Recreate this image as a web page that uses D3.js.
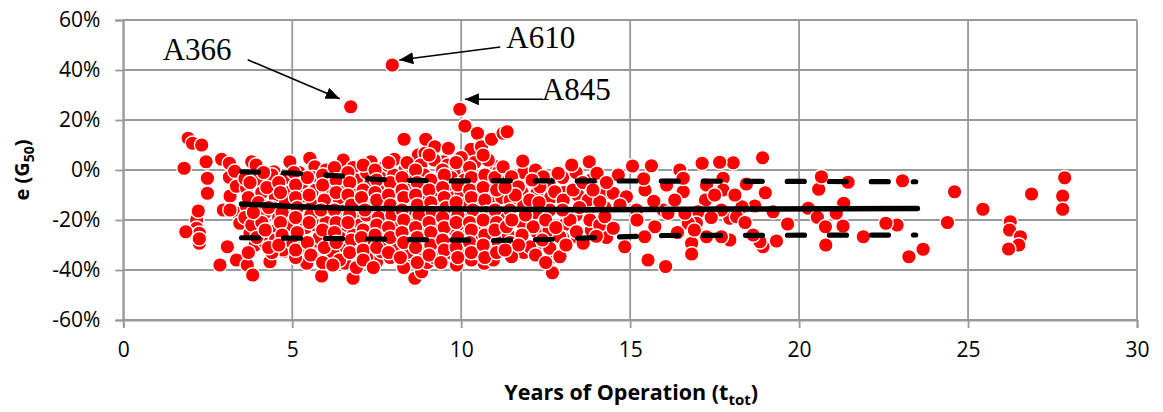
<!DOCTYPE html>
<html><head><meta charset="utf-8">
<script src="https://cdn.jsdelivr.net/npm/d3@7"></script>
<style>
html,body{margin:0;padding:0;background:#fff;}
svg{display:block;}
</style></head>
<body>
<svg id="chart" width="1163" height="412"></svg>
<script>
// ---------- DATA ----------
const xTicks = [0, 5, 10, 15, 20, 25, 30];
const yTicks = [-60, -40, -20, 0, 20, 40, 60];
const yTickLabels = ["-60%", "-40%", "-20%", "0%", "20%", "40%", "60%"];

// [years of operation, error %]
const leftCluster = [
 [1.92,12.7],[2.05,10.7],[2.32,10],[1.8,0.7],[2.45,3.3],[2.91,4.3],[3.14,2.7],[2.49,-3.3],[2.49,-9.3],
 [3.14,-2.9],[3.16,-10.4],[2.25,-16],[2.17,-20],[2.17,-23.3],[1.88,-25.1],[2.25,-25.3],[2.25,-29.3],
 [2.96,-16],[3.4,-17.3],[3.45,-21.3],[3.08,-30.7],[2.86,-38],[3.35,-36],[3.16,-16],[2.22,-16.4],
 [1.85,-24.7],[2.25,-27.5],[3.3,-0.5],[3.35,-6.5]
];
const coreCluster = [
 [3.8,3.3],[3.93,2],[4.46,-0.7],[4.93,3.3],[5.52,4.7],[5.67,1.3],[6.51,4],[7.05,2],[7.33,3.3],[7.74,1.3],
 [8.02,4.3],[8.31,12.3],[8.33,0],[8.73,6],[8.93,6.7],[8.95,12.3],[9.22,9.3],[9.47,3.3],[9.62,8.7],[9.86,0],
 [10.11,17.6],[10.21,-0.7],[10.29,8.3],[10.48,14.7],[10.6,9.3],[10.7,-2.7],[10.9,12.3],[11.05,1.3],[11.24,14.7],
 [3.67,-38],[3.83,-42],[4.34,-36.7],[4.75,-32.7],[5.43,-37.3],[5.87,-42.4],[6.56,-37.3],[6.8,-43.3],[7.15,-33.3],
 [7.5,-36.7],[7.64,-32.7],[8.33,-36],[8.63,-43.3],[8.83,-40.7],[9.42,-34.7],[9.86,-38],[10.41,-34.7],[10.68,-37.3],
 [10.95,-36],[3.65,-7.3],[4.59,-6.7],[5.23,-8.3],[3.65,-14.7],[3.75,-25.3],[4.04,-26.7],[4.54,-24],[4.73,-32],
 [5.28,-26.7],[5.62,-30.7],[6.02,-25.3],[6.31,-18.7],
 [3.6,-3.5],[3.7,-11],[3.6,-19],[3.8,-22],[3.9,-30],
 [4.0,-4],[4.1,-9],[4.0,-13],[4.2,-17],[4.1,-21],[4.2,-29],
 [4.4,-2],[4.5,-11],[4.4,-15],[4.6,-19],[4.5,-28],[4.4,-33],
 [4.8,-3],[4.9,-9],[4.8,-13],[5.0,-17],[4.9,-22],[5.0,-29],[5.1,-35],
 [5.2,-1],[5.3,-5],[5.3,-12],[5.4,-16],[5.2,-20],[5.4,-23],[5.3,-31],
 [5.6,-3],[5.7,-8],[5.6,-14],[5.8,-18],[5.7,-22],[5.8,-27],[5.6,-34],
 [6.0,0],[6.1,-5],[6.0,-10],[6.2,-14],[6.0,-21],[6.1,-29],[6.2,-33],
 [6.4,-2],[6.5,-7],[6.4,-12],[6.6,-16],[6.5,-23],[6.4,-27],[6.6,-31],[6.4,-36],
 [6.8,1],[6.9,-4],[6.8,-9],[7.0,-13],[6.9,-19],[7.0,-22],[6.8,-26],[7.0,-30],[6.9,-39],
 [7.2,-1],[7.3,-6],[7.2,-11],[7.4,-15],[7.2,-18],[7.3,-24],[7.4,-28],[7.2,-35],
 [7.6,-3],[7.7,-8],[7.6,-13],[7.8,-17],[7.6,-21],[7.7,-25],[7.8,-30],[7.9,-35],
 [8.0,-2],[8.1,-6],[8.0,-10],[8.2,-14],[8.0,-19],[8.1,-23],[8.2,-27],[8.0,-31],[8.3,-39],
 [8.4,3],[8.5,-4],[8.4,-8],[8.6,-12],[8.5,-17],[8.4,-21],[8.6,-25],[8.5,-29],[8.4,-33],
 [8.8,2],[8.9,-2],[8.8,-7],[9.0,-11],[8.9,-15],[8.8,-19],[9.0,-23],[8.9,-28],[8.8,-32],[9.0,-37],
 [9.2,4],[9.3,-5],[9.2,-9],[9.4,-13],[9.3,-17],[9.2,-21],[9.4,-26],[9.3,-30],[9.2,-35],
 [9.6,2],[9.7,-3],[9.6,-7],[9.8,-11],[9.7,-16],[9.6,-20],[9.8,-24],[9.7,-29],[9.6,-33],
 [10.0,5],[10.1,-4],[10.0,-9],[10.2,-13],[10.1,-18],[10.0,-22],[10.2,-26],[10.1,-31],[10.3,-36],
 [10.4,3],[10.5,-6],[10.4,-10],[10.6,-15],[10.5,-19],[10.4,-24],[10.6,-28],[10.5,-33],
 [10.8,4],[10.9,-5],[10.8,-9],[11.0,-13],[10.9,-18],[10.8,-22],[11.0,-27],[10.9,-31],
 [11.1,-1],[11.2,-11],[11.1,-19],[11.2,-25],[11.1,-29]
];
const coreFill = [
 [3.75,-5],[3.85,-17],[3.95,-27],[3.7,-33],
 [4.15,-1],[4.25,-7],[4.3,-15],[4.2,-24],[4.3,-31],
 [4.6,-5],[4.65,-9],[4.7,-17],[4.65,-21],[4.7,-26],[4.6,-30],
 [5.05,-1],[5.1,-6],[5.1,-11],[5.15,-15],[5.1,-19],[5.15,-25],[5.1,-32],
 [5.45,-3],[5.5,-10],[5.55,-18],[5.5,-21],[5.45,-29],[5.55,-34],
 [5.9,-2],[5.9,-6],[5.95,-12],[5.85,-16],[5.9,-24],[5.95,-31],[5.9,-37],
 [6.25,1],[6.3,-4],[6.3,-9],[6.25,-16],[6.3,-21],[6.25,-25],[6.3,-29],[6.2,-38],
 [6.65,-1],[6.7,-5],[6.65,-10],[6.75,-14],[6.7,-18],[6.65,-21],[6.75,-28],[6.7,-33],
 [7.1,2],[7.1,-8],[7.05,-11],[7.15,-16],[7.1,-24],[7.05,-27],[7.1,-32],[7.1,-36],
 [7.45,0],[7.5,-4],[7.45,-9],[7.5,-12],[7.55,-19],[7.5,-22],[7.45,-26],[7.5,-31],[7.4,-39],
 [7.85,3],[7.9,-5],[7.85,-10],[7.9,-14],[7.95,-18],[7.85,-23],[7.9,-27],[7.85,-33],
 [8.25,-3],[8.25,-8],[8.3,-11],[8.25,-16],[8.3,-20],[8.25,-25],[8.3,-29],[8.2,-35],
 [8.65,0],[8.7,-5],[8.65,-10],[8.7,-14],[8.75,-18],[8.65,-23],[8.7,-27],[8.65,-31],[8.7,-37],
 [9.05,6],[9.1,-4],[9.05,-8],[9.1,-13],[9.15,-17],[9.05,-21],[9.1,-25],[9.1,-30],[9.05,-34],
 [9.45,0],[9.5,-2],[9.45,-7],[9.5,-11],[9.55,-15],[9.45,-19],[9.5,-23],[9.45,-28],[9.5,-32],[9.4,-37],
 [9.85,3],[9.9,-6],[9.85,-13],[9.9,-18],[9.85,-21],[9.9,-27],[9.85,-31],[9.9,-35],
 [10.25,1],[10.3,-3],[10.25,-8],[10.3,-11],[10.35,-16],[10.25,-21],[10.3,-24],[10.25,-29],[10.3,-33],
 [10.65,6],[10.7,-2],[10.65,-7],[10.7,-12],[10.75,-17],[10.65,-20],[10.7,-26],[10.65,-30],[10.7,-35],
 [11.0,-3],[11.05,-8],[11.0,-16],[11.05,-21],[11.0,-24],[11.05,-33],
 [11.4,-4],[11.45,-12],[11.4,-26],[11.45,-29],
 [11.85,-1],[11.8,-9],[11.85,-14],[11.8,-21],[11.85,-33],
 [12.2,0],[12.25,-9],[12.2,-17],[12.25,-25],[12.2,-30],
 [12.6,-5],[12.65,-11],[12.6,-24],[12.65,-35],
 [13.0,-3],[13.05,-9],[13.1,-18],[13.05,-22],[13.0,-27],
 [13.4,-1],[13.45,-10],[13.4,-18],[13.45,-27],
 [13.85,-4],[13.8,-15],[13.85,-24],
 [14.3,-9],[14.25,-15],[14.3,-27]
];
const midCluster = [
 [11.24,1.3],[11.36,15.3],[11.49,-2.7],[11.69,-6.7],[11.82,3.6],[12.33,-6.7],[12.43,-2.7],[12.87,-1.3],[13.27,2],
 [13.79,3.3],[14.02,-1.3],[14.65,-2],[15.07,1.6],[15.63,1.7],
 [11.49,-34.7],[12.03,-30.7],[12.62,-31.3],[12.7,-41.1],[12.92,-34.7],[13.61,-29.3],[14.84,-30.7],[15.53,-36],[16.05,-38.6],
 [12.77,-8.7],[12.03,-12],[12.62,-16],[12.13,-22.7],[13.02,-12],[13.31,-8],[13.22,-20],[13.41,-24.7],[12.92,-26.7],
 [11.34,-22.7],[11.44,-16],[13.81,-20],[14.1,-22],[13.76,-12],[14.1,-12.7],[14.5,-9.3],[14.89,-10.7],[15.44,-8],
 [14.25,-18.7],[14.5,-23.3],[15.73,-22.7],[15.98,-16],[15.19,-16],[15.43,-26.7],
 [11.6,-10],[11.9,-18],[12.3,-13],[12.5,-20],[11.8,-26],[12.4,-28],[12.2,-34],[11.7,-30],[13.0,-16],[13.5,-15],
 [13.6,-5],[12.1,-4],[11.3,-7],[11.5,-20],[12.8,-23],[13.9,-8],[14.3,-5],[13.1,-30],[12.5,-37],[11.3,-32],
 [14.7,-14],[15.2,-20],[14.0,-26.5],[15.7,-12.5],[15.4,-3.5]
];
const rightCluster = [
 [18.92,4.9],[20.58,-7.7],[20.27,-15.3],[20.54,-18.9],[20.78,-22.7],[20.79,-30],[19.66,-21.6],[19.33,-28.4],
 [19.23,-16.7],[19.0,-9.1],[18.93,-30.7],[18.84,-28.7],[18.64,-26],[18.69,-14.4],[18.44,-5.6],[18.31,-14.7],
 [18.05,2.9],[17.65,3.1],[17.13,2.7],[17.75,-3.3],[17.75,-8],[18.1,-10],[17.95,-19.3],[17.95,-28],[17.7,-26.7],
 [17.7,-16],[17.26,-6],[17.23,-12],[17.01,-16.7],[16.96,-21.3],[17.26,-26.7],[16.82,-29.3],[16.82,-33.6],
 [16.72,-21.3],[16.57,-8.7],[16.47,0],[16.57,-3.3],[16.32,-12],[16.12,-17.3],[16.08,-6],[18.15,-18.7],[16.62,-17.3],
 [17.4,-19],[16.9,-24],[17.5,-10],[18.4,-21],[16.4,-25],[20.66,-2.7]
];
const sparseTail = [
 [27.86,-3.1],[27.8,-10.4],[27.8,-15.7],[26.88,-9.6],[26.25,-20.7],[26.23,-24],[26.55,-26.7],[26.5,-30],
 [26.2,-31.6],[25.44,-15.7],[24.6,-8.7],[24.39,-21],[23.67,-31.7],[23.25,-34.7],[23.06,-4.3],[22.9,-22],
 [22.57,-21.3],[21.9,-26.7],[21.45,-4.9],[21.32,-13.3],[21.3,-22.4],[21.1,-17.3]
];
const labelledPoints = [[6.73,25.3],[7.96,42],[9.96,24.3]];
const labelNames = ["A366", "A610", "A845"];

// mean and bound lines
const meanLine  = [[3.5,-13.6],[5,-14.6],[6.5,-15.3],[10,-15.6],[14,-15.9],[18,-15.6],[23.5,-15.4]];
const upperLine = [[3.5,-0.7],[5,-1.2],[6.5,-2.5],[7.5,-3.8],[9,-4.3],[15,-4.4],[23.45,-4.7]];
const lowerLine = [[3.5,-27.1],[6,-27.4],[9,-27.9],[11,-28.2],[12.5,-27.8],[14,-27],[16,-26.2],[23.45,-26]];

// ---------- LAYOUT ----------
const svg = d3.select("#chart");
const L = 123.3, R = 1137, T = 20, B = 320;
const x = d3.scaleLinear().domain([0, 30]).range([L, R]);
const y = d3.scaleLinear().domain([-60, 60]).range([B, T]);
const gridColor = "#999999";
const tickFont = "'Open Sans', sans-serif";

// gridlines
svg.append("g").selectAll("line").data(yTicks).join("line")
  .attr("x1", L).attr("x2", R).attr("y1", d => y(d)).attr("y2", d => y(d))
  .attr("stroke", gridColor).attr("stroke-width", 1.8);
svg.append("g").selectAll("line").data(xTicks).join("line")
  .attr("y1", T).attr("y2", B).attr("x1", d => x(d)).attr("x2", d => x(d))
  .attr("stroke", gridColor).attr("stroke-width", 1.8);

// axes
const xAxis = svg.append("g").attr("transform", `translate(0,${B})`)
  .call(d3.axisBottom(x).tickValues(xTicks).tickSize(8).tickPadding(14).tickFormat(d3.format("d")));
const yAxis = svg.append("g").attr("transform", `translate(${L},0)`)
  .call(d3.axisLeft(y).tickValues(yTicks).tickSize(8).tickPadding(15)
        .tickFormat(d => yTickLabels[yTicks.indexOf(d)]));
[xAxis, yAxis].forEach(g => {
  g.select(".domain").attr("stroke", gridColor).attr("stroke-width", 1.8);
  g.selectAll(".tick line").attr("stroke", gridColor).attr("stroke-width", 1.8);
  g.selectAll(".tick text").attr("fill", "#000").style("font-family", tickFont).style("font-size", "21px");
});

// axis titles
const xt = svg.append("text").attr("x", (L + R) / 2 + 1).attr("y", 400)
  .attr("text-anchor", "middle").style("font-family", tickFont).style("font-size", "21.5px").style("font-weight", "bold");
xt.append("tspan").text("Years of Operation (t");
xt.append("tspan").attr("dy", 5).style("font-size", "15px").text("tot");
xt.append("tspan").attr("dy", -5).text(")");

const yt = svg.append("text").attr("transform", `translate(29,${y(0)}) rotate(-90)`)
  .attr("text-anchor", "middle").style("font-family", tickFont).style("font-size", "20px").style("font-weight", "bold");
yt.append("tspan").text("e (G");
yt.append("tspan").attr("dy", 5).style("font-size", "14px").text("50");
yt.append("tspan").attr("dy", -5).text(")");

// points
const allPoints = [].concat(leftCluster, coreCluster, coreFill, midCluster, rightCluster, sparseTail, labelledPoints);
svg.append("g").selectAll("circle").data(allPoints).join("circle")
  .attr("cx", d => x(d[0])).attr("cy", d => y(d[1])).attr("r", 7.3)
  .attr("fill", "#ff0000").attr("stroke", "#ffffff").attr("stroke-width", 1.4);

// trend lines
const line = d3.line().x(d => x(d[0])).y(d => y(d[1]));
svg.append("path").attr("d", line(meanLine)).attr("fill", "none").attr("stroke", "#000")
  .attr("stroke-width", 5.5).attr("stroke-linecap", "round");
[upperLine, lowerLine].forEach(ln => {
  svg.append("path").attr("d", line(ln)).attr("fill", "none").attr("stroke", "#000")
    .attr("stroke-width", 5.2).attr("stroke-linecap", "round").attr("stroke-dasharray", "17,25");
});

// annotations
const defs = svg.append("defs");
defs.append("marker").attr("id", "arr").attr("viewBox", "0 0 14 12").attr("refX", 14).attr("refY", 6)
  .attr("markerWidth", 14).attr("markerHeight", 12).attr("markerUnits", "userSpaceOnUse").attr("orient", "auto")
  .append("path").attr("d", "M0,0 L14,6 L0,12 Z").attr("fill", "#000");

// pixel offsets of the label text and arrow relative to each labelled point
const annotLayout = [
  {tx: -188, ty: -47, sx: -103, sy: -47, ex: -11, ey: -8},
  {tx: 114, ty: -17, sx: 108, sy: -18, ex: 7, ey: -5},
  {tx: 82, ty: -9, sx: 83, sy: -10, ex: 5, ey: -10}
];
labelledPoints.forEach((p, i) => {
  const px = x(p[0]), py = y(p[1]), a = annotLayout[i];
  svg.append("line").attr("x1", px + a.sx).attr("y1", py + a.sy).attr("x2", px + a.ex).attr("y2", py + a.ey)
    .attr("stroke", "#000").attr("stroke-width", 1.6).attr("marker-end", "url(#arr)");
  svg.append("text").attr("x", px + a.tx).attr("y", py + a.ty)
    .style("font-family", "'Liberation Serif', 'Times New Roman', serif").style("font-size", "31px")
    .attr("fill", "#000").text(labelNames[i]);
});
</script>
</body></html>
